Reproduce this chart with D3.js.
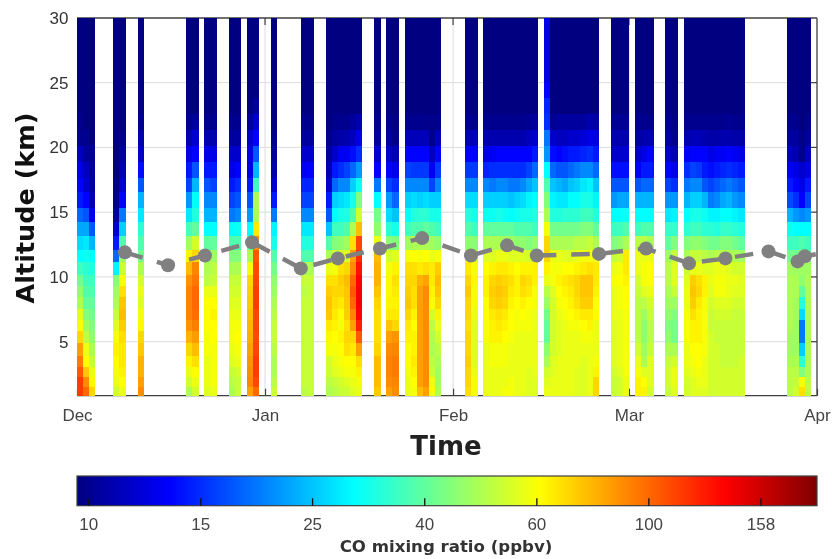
<!DOCTYPE html>
<html><head><meta charset="utf-8">
<script src="https://cdn.jsdelivr.net/npm/d3@7"></script>
<style>html,body{margin:0;padding:0;background:#fff}svg{display:block;font-family:"DejaVu Sans",sans-serif;filter:blur(0.5px)}</style>
</head><body><svg id="c" width="832" height="559"></svg>
<script>
const monthTicks=["Dec","Jan","Feb","Mar","Apr"];
const altTicks=[5,10,15,20,25,30];
const barTicks=[10,15.85,25.1,39.8,63.1,100,158.5];
const barLabels=["10","15","25","40","60","100","158"];
const levelEdges=[0.83,1.5,2.27,3.1,3.94,4.9,5.87,6.7,7.55,8.44,9.3,10.2,11.15,12.1,13.2,14.3,15.35,16.55,17.7,18.9,20.15,21.4,22.6,23.85,25.1,30];
const topValue=9.6;
// day offset from 1 Dec; each profile runs from the lowest level upward (ppbv)
const obsDays=[0,1,2,6,7,10,18,19,21,22,25,26,28,29,32,37,38,41,42,43,44,45,46,49,51,52,54,55,56,57,58,59,64,65,67,68,69,70,71,72,73,74,75,77,78,79,80,81,82,83,84,85,88,89,90,92,93,94,97,98,100,101,102,103,104,105,106,107,108,109,117,118,119,120];
const profiles=[
[115,115,105,95,85,72,62,58,50,46,42,36,30,27,23,19,15,14,13,11.5,10,9.8],
[100,90,75,64,60,52,48,44,40,38,36,34,31,28,23,18,14,12,11.5,10.5,10],
[72,65,60,54,50,46,44,42,40,38,36,33,30,24,18,13,11,10.5,10.2,10],
[56,60,62,64,66,62,58,54,50,48,45,29,19,15,12,10.5,10,9.8],
[60,64,66,68,68,70,74,78,76,70,62,55,48,38,26,20,14,12,11,10.5,10],
[90,85,80,80,75,72,65,62,58,60,56,50,42,38,34,28,24,18,14.5,12,11,10],
[50,56,60,66,72,80,88,92,92,92,88,78,66,48,37,28,22,17,15,13,11,10],
[56,60,64,70,78,86,94,98,100,100,96,92,72,56,40,33,30,24,18,14,12,10.5],
[58,60,60,60,62,62,64,64,64,60,52,50,48,40,30,24,21,18,15,13,11,10],
[60,62,62,62,62,64,64,66,64,60,54,52,48,40,30,24,21,17,15,13,11,10],
[50,52,54,58,60,62,62,60,58,56,54,50,44,38,30,20,17,15,13,12,10.5,10],
[54,54,56,60,62,64,62,60,58,56,54,50,44,38,31,21,18,16,14,12,10.5,10],
[85,92,90,88,85,82,80,78,75,74,72,62,50,40,30,22,18,15,13,13,12,10.5],
[100,110,115,115,112,110,112,112,115,115,112,110,105,90,68,50,50,36,24,18,14,12,10.5],
[55,52,50,50,52,54,54,52,50,48,46,42,38,32,29,20,15,12,11,10.5,10],
[52,54,54,54,54,54,54,54,54,52,54,50,38,33,28,21,17,15.5,13.5,12,10.5,10],
[54,54,54,54,54,54,54,54,54,54,54,50,38,33,28,21,17,15.5,14,12,10.5,10],
[50,52,55,56,62,65,68,75,76,74,70,60,50,38,25,18,15,12,11,10.5,10],
[52,54,58,60,62,64,66,68,70,72,70,62,54,44,36,30,26,19,15,12,10.5,10],
[54,56,60,62,64,66,62,64,68,72,74,70,56,46,36,32,27,21,16,13.5,10.8,10],
[55,58,62,64,70,72,70,74,75,76,78,72,58,48,38,33,28,21,17,13.5,11,10],
[58,60,62,64,68,72,85,92,100,105,100,90,85,70,50,38,32,26,19,14.5,11.5,10.5],
[60,62,66,70,85,105,125,136,140,140,136,130,120,112,78,56,44,31,22,16,13,11],
[75,78,78,78,72,70,70,70,72,76,80,80,78,60,46,42,30,20,14,12,10.5,10],
[85,90,92,92,90,85,76,68,66,65,65,62,56,46,34,27,22,17,14,12,10.5,10],
[90,92,95,95,92,88,72,68,66,68,70,66,58,44,32,25,19,16,13,11,10,9.8],
[60,60,62,64,64,66,68,72,76,74,72,70,62,48,36,30,26,21,17,14,11.3,10],
[62,64,66,68,66,66,64,66,70,70,72,70,64,50,38,33,27,21,16.5,14,11.3,10],
[78,85,85,85,85,85,85,85,85,85,80,68,62,50,38,34,26,21,16.5,14,11.3,10],
[85,90,90,90,90,90,90,90,90,90,84,70,64,50,40,34,27,21,16.5,14,11.3,10],
[62,60,55,52,50,50,52,56,62,66,68,68,60,48,38,32,26,17,13.5,11.5,10,9.8],
[50,48,48,50,52,56,60,66,72,76,78,74,62,46,36,32,26,21,16.5,14,11.3,10],
[70,72,72,74,72,72,70,72,72,75,72,68,60,46,38,33,27,21,16.5,14,11.3,10],
[62,62,60,58,58,58,58,60,62,62,65,62,55,45,36,32,27,21,16.5,14,11.3,10],
[60,60,60,60,60,62,62,64,64,66,66,64,58,50,40,31,26,21,15.5,13,11,10],
[60,60,60,62,62,66,66,68,72,74,72,66,58,50,40,31,26,20,16,13.5,11,10],
[60,60,60,62,62,66,68,70,74,76,74,68,60,50,40,32,26,21,16,14,11,10],
[62,60,60,62,62,64,66,68,72,74,72,68,60,48,40,31,26,21,16,14,11,10],
[62,62,60,60,60,62,64,64,66,68,70,66,58,48,40,30,25,20,16,14,11,10],
[60,60,60,60,60,60,62,62,64,66,66,64,58,46,38,31,26,20,16,14,11,10],
[60,60,60,60,60,60,62,64,66,70,72,66,58,46,38,32,27,21,16,14,11,10],
[58,58,58,60,60,60,62,62,64,68,70,66,56,44,38,32,29,23,17,14,11.5,10.2],
[58,58,60,60,60,60,60,60,62,62,66,66,56,46,36,33,30,25,19,15,12,10.5],
[60,58,56,50,46,40,40,42,48,52,60,66,72,72,62,50,44,38,30,22,20,16,15.5,14,13],
[60,60,58,58,56,56,56,56,56,58,62,62,60,50,42,33,29,25,19,14.5,12,10.2],
[60,60,60,60,58,58,58,60,62,64,66,62,60,50,42,33,28,24,18,14,11.5,10.5],
[60,60,60,60,60,60,60,62,64,66,68,64,58,50,42,34,28,23,18,14.5,11.5,10.5],
[60,60,60,60,60,60,62,64,66,68,70,64,58,50,42,34,30,25,19,15,12,10.5],
[58,58,58,60,60,60,62,66,70,72,72,66,60,52,42,34,30,26,20,15,12,10.5],
[58,58,58,58,60,62,64,68,74,76,76,68,62,52,44,36,32,28,21,15.5,12.5,10.5],
[60,60,60,60,60,62,66,68,74,76,76,70,62,54,44,36,32,29,21,16,13,11],
[72,72,66,62,60,60,60,64,64,66,68,68,60,50,40,33,29,25,19,15,12.5,10.5],
[54,54,56,58,58,58,58,60,60,60,62,60,54,44,36,30,22,18,14.5,12,11,10.2],
[56,56,58,60,60,60,60,60,62,62,64,62,56,46,36,30,23,18,14.5,12,11,10.2],
[60,60,62,62,62,62,62,62,64,64,66,68,68,50,38,31,23,18,14.5,12,11,10.2],
[66,66,62,60,56,52,52,52,52,54,56,60,60,52,36,30,24,18,13.5,12,10.5,10],
[66,64,58,50,48,46,46,48,52,58,62,62,60,52,38,30,24,19,15,13,11,10],
[56,58,58,58,54,52,52,54,56,60,64,64,60,50,38,30,24,19,15,14,11,10],
[54,56,56,54,50,46,44,46,48,50,52,52,48,40,35,28,22,17,14,12,10.5,10],
[58,60,60,56,50,42,42,44,48,54,58,58,54,44,35,29,22,16,13,11,10,9.8],
[56,56,58,60,60,62,62,62,60,60,58,55,50,44,34,30,24,20,16,13.5,11,10],
[58,58,60,62,64,66,66,70,74,76,74,60,54,46,36,32,26,21,17,14,11.3,10],
[58,60,62,64,64,66,66,66,68,72,70,60,54,46,36,32,26,21,16.5,14,11.3,10],
[58,60,60,60,62,62,62,62,62,66,66,58,52,44,34,31,24,18,15,14,11,10],
[56,56,56,56,56,56,54,54,56,58,60,58,50,42,34,29,20,17,14.5,13,10.8,10],
[56,56,56,56,56,54,54,56,58,62,62,60,52,42,33,29,21,18,15,13.5,10.8,10],
[56,56,56,54,54,54,54,56,58,62,62,60,52,44,35,30,23,19,15.5,13.5,11,10],
[56,56,56,54,54,54,54,56,58,60,60,58,50,44,35,30,24,20,16,14,11,10.2],
[56,56,56,54,54,54,54,54,56,58,60,56,50,42,34,29,22,19,15.5,13.5,10.8,10],
[56,56,56,56,54,54,54,54,56,58,58,56,48,40,33,28,21,18,15,13,10.8,10],
[52,52,52,50,48,48,50,50,50,50,50,48,42,36,31,24,17.5,15,13.5,11.5,10.5,10],
[56,54,52,50,48,48,48,48,48,50,50,48,42,36,30,22,16,14,13,11,10.5,10],
[70,62,44,34,26,20,20,27,33,40,46,48,46,38,30,21,14,13,12,10,9.8],
[52,52,50,50,50,50,50,50,50,50,50,48,42,36,30,22,17,15,13,11.5,10.5,10]
];
const tropDays=[7.9,15,21.1,28.85,36.9,43,49.95,56.9,64.95,70.9,75.8,86.05,93.8,100.9,106.9,114,118.8,120,121.8];
const tropAlt=[11.9,10.9,11.66,12.67,10.66,11.43,12.2,13,11.66,12.44,11.66,11.78,12.2,11.05,11.43,11.97,11.2,11.6,11.75];

const svg=d3.select("#c");
const dayDate=d=>new Date(Date.UTC(2015,11,1)+d*864e5);
const x=d3.scaleUtc().domain([dayDate(0),dayDate(122)]).range([77,817]);
const y=d3.scaleLinear().domain([0.83,30]).range([395.7,17.9]);
const jet=d3.piecewise(d3.interpolateRgb,["#00007f","#0000ff","#007fff","#00ffff","#7fff7f","#ffff00","#ff7f00","#ff0000","#7f0000"]);
const color=d3.scaleSequentialLog(jet).domain([9.55,200]);
const grey="#404040", text="#444";

// grid
const months=[0,31,62,91,122].map(dayDate);
const g=svg.append("g").attr("stroke","#dcdcdc").attr("stroke-width",1);
altTicks.slice(0,-1).forEach(a=>g.append("line").attr("x1",77).attr("x2",817).attr("y1",y(a)).attr("y2",y(a)));
months.slice(1,-1).forEach(m=>g.append("line").attr("x1",x(m)).attr("x2",x(m)).attr("y1",18).attr("y2",395.7));

// box
const fr=svg.append("g").attr("stroke",grey).attr("stroke-width",1.3);
[[77,18,817,18],[77,395.7,817,395.7],[817,18,817,395.7]].forEach(l=>fr.append("line").attr("x1",l[0]).attr("y1",l[1]).attr("x2",l[2]).attr("y2",l[3]));

// axes
const xa=svg.append("g").attr("transform","translate(0,395.7)").call(d3.axisBottom(x).tickValues(months).tickSize(-7).tickPadding(13.5).tickFormat((d,i)=>monthTicks[i]));
xa.select(".domain").remove();
xa.selectAll("text").attr("font-size",17).attr("fill",text);
xa.selectAll("line").attr("stroke",grey).attr("stroke-width",1.2);
months.slice(1,-1).forEach(m=>svg.append("line").attr("x1",x(m)).attr("x2",x(m)).attr("y1",18).attr("y2",25).attr("stroke",grey).attr("stroke-width",1.2));
altTicks.slice(0,-1).forEach(a=>svg.append("line").attr("x1",810).attr("x2",817).attr("y1",y(a)).attr("y2",y(a)).attr("stroke",grey).attr("stroke-width",1.2));
const ya=svg.append("g").attr("transform","translate(77,0)").call(d3.axisLeft(y).tickValues(altTicks).tickSize(0).tickPadding(8.5));
ya.select(".domain").remove();
ya.selectAll("text").attr("font-size",17).attr("fill","#333");

// cells
const cells=svg.append("g").attr("shape-rendering","crispEdges");
obsDays.forEach((d,i)=>{
  d3.range(levelEdges.length-1).forEach(k=>{
    const v=k<profiles[i].length?profiles[i][k]:topValue;
    cells.append("rect").attr("x",x(dayDate(d))).attr("width",x(dayDate(d+1))-x(dayDate(d))+0.3)
      .attr("y",y(levelEdges[k+1])).attr("height",y(levelEdges[k])-y(levelEdges[k+1])+0.3).attr("fill",color(v));
  });
});

// tropopause line
const trop=tropDays.map((d,i)=>[x(dayDate(d)),y(tropAlt[i])]);
svg.append("path").attr("d",d3.line()(trop)).attr("fill","none").attr("stroke","#808080").attr("stroke-width",4.5).attr("stroke-dasharray","18.5 14.9");
svg.selectAll("circle").data(trop.slice(0,-1)).join("circle").attr("cx",d=>d[0]).attr("cy",d=>d[1]).attr("r",7).attr("fill","#808080");

// titles
svg.append("text").attr("x",446).attr("y",455).attr("text-anchor","middle").attr("font-size",26).attr("font-weight","bold").attr("fill","#222").text("Time");
svg.append("text").attr("transform","translate(33.5,208) rotate(-90)").attr("text-anchor","middle").attr("font-size",25.5).attr("font-weight","bold").attr("fill","#111").text("Altitude (km)");

// colour bar
const cx=d3.scaleLog().domain([9.55,200]).range([77,817]);
const bar=svg.append("g").attr("shape-rendering","crispEdges");
d3.range(77,817).forEach(px=>bar.append("rect").attr("x",px).attr("y",476).attr("width",1.2).attr("height",29.7).attr("fill",color(cx.invert(px+0.5))));
svg.append("rect").attr("x",77).attr("y",476).attr("width",740).attr("height",29.7).attr("fill","none").attr("stroke",grey).attr("stroke-width",1.2);
const ca=svg.append("g").attr("transform","translate(0,505.7)").call(d3.axisBottom(cx).tickValues(barTicks).tickSize(-7.5).tickPadding(12).tickFormat((d,i)=>barLabels[i]));
ca.select(".domain").remove();
ca.selectAll("text").attr("font-size",17).attr("fill",text);
ca.selectAll("line").attr("stroke","#111").attr("stroke-width",1.3);
svg.append("text").attr("x",446).attr("y",552).attr("text-anchor","middle").attr("font-size",16.6).attr("font-weight","bold").attr("fill","#333").text("CO mixing ratio (ppbv)");
</script></body></html>
